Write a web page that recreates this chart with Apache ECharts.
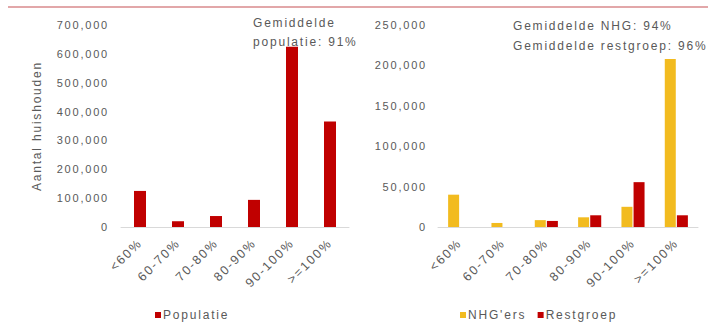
<!DOCTYPE html>
<html>
<head>
<meta charset="utf-8">
<script src="https://cdn.jsdelivr.net/npm/echarts@6/dist/echarts.min.js"></script>
<style>
  html, body { margin: 0; padding: 0; background: #fff; }
  #chart { width: 708px; height: 325px; }
  /* the original typesetting runs wide */
  #chart text { letter-spacing: 1.8px; }
</style>
</head>
<body>
<div id="chart"></div>
<script>
// Loan-to-value buckets
const categories = ['<60%', '60-70%', '70-80%', '80-90%', '90-100%', '>=100%'];

// Households per bucket: whole population
const populatie = [125000, 20000, 38000, 94000, 625000, 366000];

// Households per bucket: NHG borrowers vs. the rest
const nhgErs = [40000, 5000, 8500, 12000, 25000, 208000];
const restgroep = [0, 0, 7500, 14500, 55500, 14500];

// Axis ticks
const leftMax = 700000, leftStep = 100000;
const rightMax = 250000, rightStep = 50000;

const textColor = '#595959';
const fontFamily = 'Liberation Sans, Arial, sans-serif';
const red = '#c00000';
const yellow = '#f2bb1f';

const fmt = v => v.toLocaleString('en-US');

const chart = echarts.init(document.getElementById('chart'), null, { renderer: 'svg' });

const xAxisCommon = {
  type: 'category',
  data: categories,
  axisTick: { show: false },
  axisLine: { lineStyle: { color: '#d9d9d9', width: 1 } },
  axisLabel: { rotate: 45, margin: 14, color: textColor, fontSize: 12.5, fontFamily, interval: 0 }
};

const yAxisCommon = {
  type: 'value',
  min: 0,
  splitLine: { show: false },
  axisLine: { show: false },
  axisTick: { show: false }
};

const legendText = { color: textColor, fontSize: 12, fontFamily, padding: [0, 0, 0, -3] };

chart.setOption({
  animation: false,
  textStyle: { fontFamily },
  grid: [
    { left: 121, right: 359, top: 25, bottom: 98 },
    { left: 438, right: 10, top: 25, bottom: 98 }
  ],
  xAxis: [
    Object.assign({ gridIndex: 0 }, xAxisCommon),
    Object.assign({ gridIndex: 1 }, xAxisCommon)
  ],
  yAxis: [
    Object.assign({}, yAxisCommon, {
      gridIndex: 0, max: leftMax, interval: leftStep,
      name: 'Aantal huishouden', nameLocation: 'middle', nameGap: 78,
      nameTextStyle: { color: textColor, fontSize: 12, fontFamily },
      axisLabel: { color: textColor, fontSize: 11, fontFamily, margin: 12, formatter: fmt }
    }),
    Object.assign({}, yAxisCommon, {
      gridIndex: 1, max: rightMax, interval: rightStep,
      axisLabel: { color: textColor, fontSize: 11, fontFamily, margin: 11, formatter: fmt }
    })
  ],
  legend: [
    {
      data: ['Populatie'], left: 150, top: 304,
      icon: 'rect', itemWidth: 6, itemHeight: 6, itemGap: 10,
      textStyle: legendText
    },
    {
      data: ["NHG'ers", 'Restgroep'], left: 455, top: 304,
      icon: 'rect', itemWidth: 6, itemHeight: 6, itemGap: 24,
      textStyle: legendText
    }
  ],
  series: [
    {
      name: 'Populatie', type: 'bar', xAxisIndex: 0, yAxisIndex: 0,
      data: populatie, barWidth: 12, itemStyle: { color: red }
    },
    {
      name: "NHG'ers", type: 'bar', xAxisIndex: 1, yAxisIndex: 1,
      data: nhgErs, barWidth: 11, barGap: '10%', itemStyle: { color: yellow }
    },
    {
      name: 'Restgroep', type: 'bar', xAxisIndex: 1, yAxisIndex: 1,
      data: restgroep, barWidth: 11, barGap: '10%', itemStyle: { color: red }
    }
  ],
  graphic: [
    {
      type: 'line',
      shape: { x1: 8, y1: 7, x2: 708, y2: 7 },
      style: { stroke: '#d98a8c', lineWidth: 1.5 }
    },
    {
      type: 'text', left: 253, top: 13,
      style: {
        text: 'Gemiddelde\npopulatie: 91%',
        fill: textColor, font: '12px ' + fontFamily, lineHeight: 19
      }
    },
    {
      type: 'text', left: 513, top: 16,
      style: {
        text: 'Gemiddelde NHG: 94%\nGemiddelde restgroep: 96%',
        fill: textColor, font: '12px ' + fontFamily, lineHeight: 20
      }
    }
  ]
});
</script>
</body>
</html>
